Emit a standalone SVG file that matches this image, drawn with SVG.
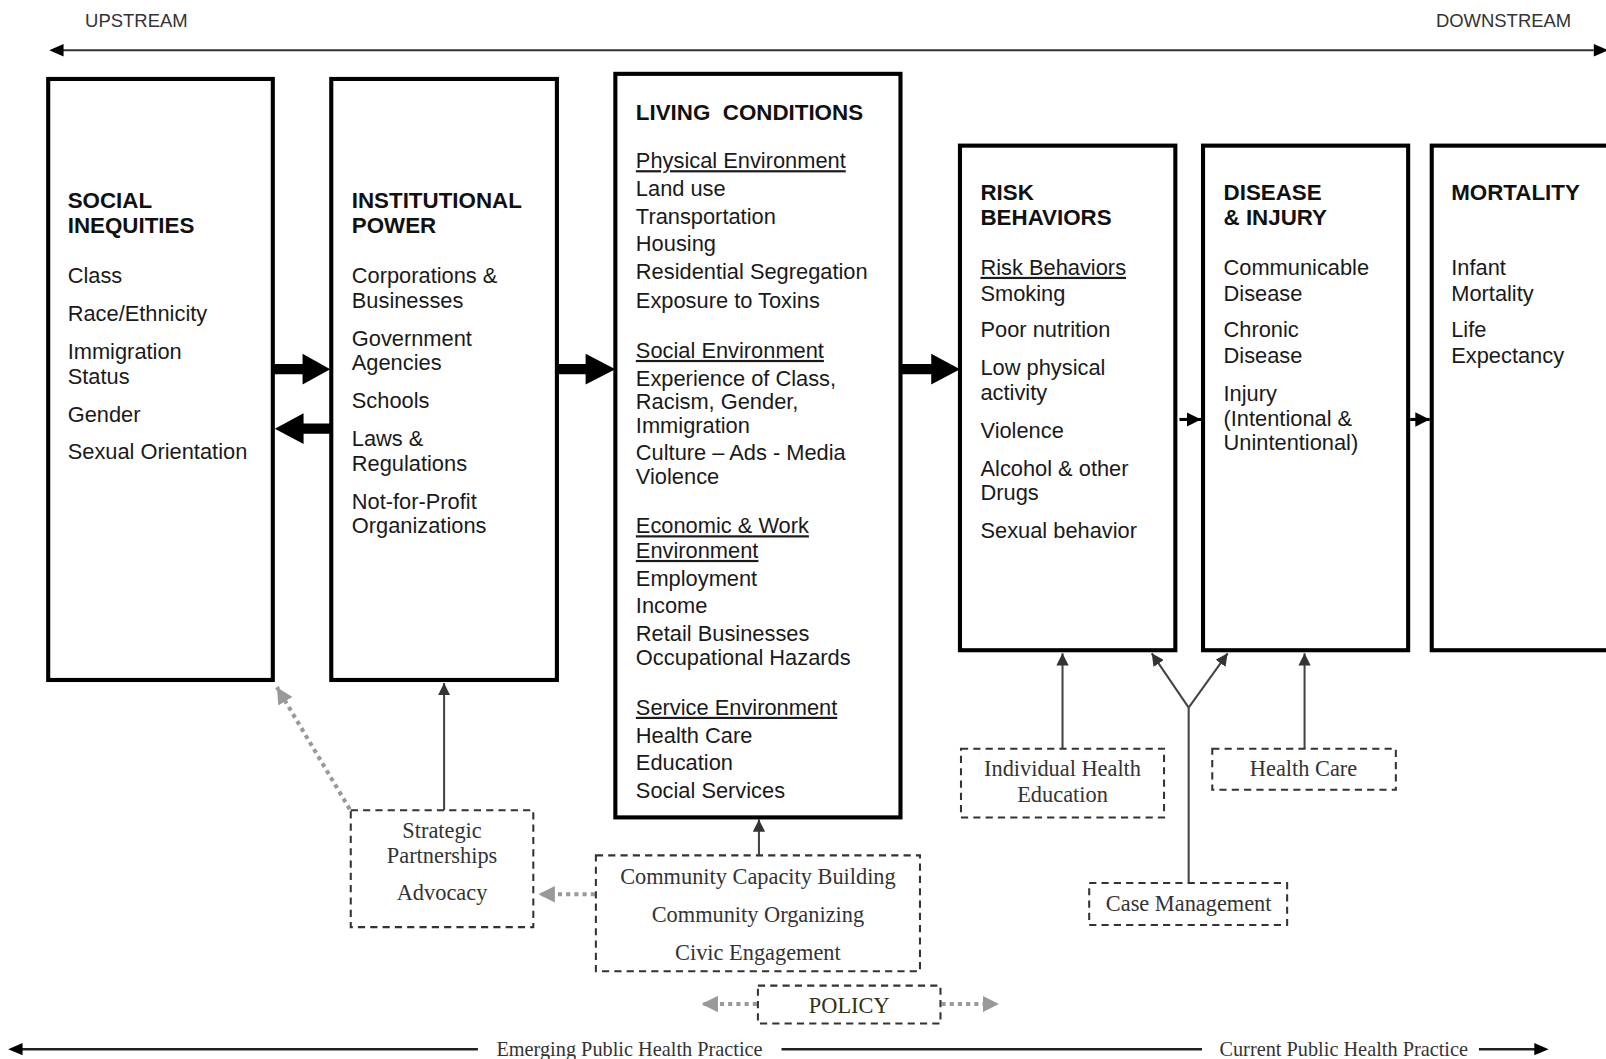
<svg xmlns="http://www.w3.org/2000/svg" width="1606" height="1059" viewBox="0 0 1606 1059">
<style>
.box{fill:#fff;stroke:#000;stroke-width:4}
.dbox{fill:#fff;stroke:#333;stroke-width:2;stroke-dasharray:7,5}
.h{font-family:"Liberation Sans",Arial,sans-serif;font-weight:bold;font-size:21.8px;fill:#111}
.t{font-family:"Liberation Sans",Arial,sans-serif;font-size:21.3px;fill:#1a1a1a}
.u{text-decoration:underline}
.s{font-family:"Liberation Serif","Times New Roman",serif;font-size:21.8px;fill:#333;text-anchor:middle}
.top{font-family:"Liberation Sans",Arial,sans-serif;font-size:18px;fill:#333}
.bot{font-family:"Liberation Serif","Times New Roman",serif;font-size:19.8px;fill:#333}
.ln{stroke:#444;stroke-width:2;fill:none}
.dot{stroke:#999;stroke-width:4;stroke-dasharray:4,4;fill:none}
</style>
<defs>
<marker id="ah" viewBox="0 0 10 10" refX="10" refY="5" markerWidth="12" markerHeight="12" markerUnits="userSpaceOnUse" orient="auto"><path d="M0,0 L10,5 L0,10 z" fill="#333"/></marker>
<marker id="ahk" viewBox="0 0 10 10" refX="10" refY="5" markerWidth="14" markerHeight="14" markerUnits="userSpaceOnUse" orient="auto"><path d="M0,0 L10,5 L0,10 z" fill="#000"/></marker>
<marker id="ahg" viewBox="0 0 10 10" refX="10" refY="5" markerWidth="16" markerHeight="16" markerUnits="userSpaceOnUse" orient="auto"><path d="M0,0 L10,5 L0,10 z" fill="#999"/></marker>
</defs>
<rect width="1606" height="1059" fill="#fff"/>
<g transform="scale(1.0256)">
<text class="top" x="83" y="26">UPSTREAM</text>
<text class="top" x="1532" y="26" text-anchor="end">DOWNSTREAM</text>

<g id="connectors">
<line x1="60" y1="49" x2="1554" y2="49" stroke="#333" stroke-width="2"/>
<path d="M48,49 L62,43 L62,55 z" fill="#000"/>
<path d="M1568,49 L1554,43 L1554,55 z" fill="#000"/>
<path d="M266,355 L295,355 L295,345 L322,360 L295,375 L295,365 L266,365 z" fill="#000"/>
<path d="M323,413 L296,413 L296,403 L268,418 L296,433 L296,423 L323,423 z" fill="#000"/>
<path d="M543,355 L571,355 L571,345 L600,360 L571,375 L571,365 L543,365 z" fill="#000"/>
<path d="M878,355 L908,355 L908,345 L936,360 L908,375 L908,365 L878,365 z" fill="#000"/>
<line x1="1150" y1="409" x2="1171" y2="409" stroke="#000" stroke-width="3" marker-end="url(#ahk)"/>
<line x1="1375" y1="409" x2="1394" y2="409" stroke="#000" stroke-width="3" marker-end="url(#ahk)"/>
<line class="ln" x1="433" y1="790" x2="433" y2="666" marker-end="url(#ah)"/>
<line class="dot" x1="341" y1="789" x2="270" y2="670" marker-end="url(#ahg)"/>
<line class="ln" x1="740" y1="834" x2="740" y2="799" marker-end="url(#ah)"/>
<line class="dot" x1="580" y1="872" x2="525" y2="872" marker-end="url(#ahg)"/>
<line class="ln" x1="1036" y1="730" x2="1036" y2="637" marker-end="url(#ah)"/>
<line class="ln" x1="1272" y1="730" x2="1272" y2="637" marker-end="url(#ah)"/>
<polyline class="ln" points="1159,861 1159,690"/>
<line class="ln" x1="1159" y1="690" x2="1123" y2="637" marker-end="url(#ah)"/>
<line class="ln" x1="1159" y1="690" x2="1197" y2="637" marker-end="url(#ah)"/>
<line class="dot" x1="738" y1="979" x2="684" y2="979" marker-end="url(#ahg)"/>
<line class="dot" x1="918" y1="979" x2="974" y2="979" marker-end="url(#ahg)"/>
<line x1="20" y1="1023" x2="466" y2="1023" stroke="#222" stroke-width="2.5"/>
<path d="M8,1023 L22,1017 L22,1029 z" fill="#000"/>
<line x1="762" y1="1023" x2="1172" y2="1023" stroke="#222" stroke-width="2.5"/>
<line x1="1442" y1="1023" x2="1498" y2="1023" stroke="#222" stroke-width="2.5"/>
<path d="M1510,1023 L1496,1017 L1496,1029 z" fill="#000"/>
</g>
<text class="bot" x="484" y="1030">Emerging Public Health Practice</text>
<text class="bot" x="1189" y="1030">Current Public Health Practice</text>

<g id="social-inequities">
<rect class="box" x="47" y="77" width="219" height="586"/>
<text class="h" x="66" y="203">SOCIAL</text>
<text class="h" x="66" y="227">INEQUITIES</text>
<text class="t" x="66" y="276">Class</text>
<text class="t" x="66" y="313">Race/Ethnicity</text>
<text class="t" x="66" y="350">Immigration</text>
<text class="t" x="66" y="374">Status</text>
<text class="t" x="66" y="411">Gender</text>
<text class="t" x="66" y="448">Sexual Orientation</text>
</g>

<g id="institutional-power">
<rect class="box" x="323" y="77" width="220" height="586"/>
<text class="h" x="343" y="203">INSTITUTIONAL</text>
<text class="h" x="343" y="227">POWER</text>
<text class="t" x="343" y="276">Corporations &amp;</text>
<text class="t" x="343" y="300">Businesses</text>
<text class="t" x="343" y="337">Government</text>
<text class="t" x="343" y="361">Agencies</text>
<text class="t" x="343" y="398">Schools</text>
<text class="t" x="343" y="435">Laws &amp;</text>
<text class="t" x="343" y="459">Regulations</text>
<text class="t" x="343" y="496">Not-for-Profit</text>
<text class="t" x="343" y="520">Organizations</text>
</g>

<g id="living-conditions">
<rect class="box" x="600" y="72" width="278" height="725"/>
<text class="h" x="620" y="117" xml:space="preserve">LIVING  CONDITIONS</text>
<text class="t u" x="620" y="164">Physical Environment</text>
<text class="t" x="620" y="191">Land use</text>
<text class="t" x="620" y="218">Transportation</text>
<text class="t" x="620" y="245">Housing</text>
<text class="t" x="620" y="272">Residential Segregation</text>
<text class="t" x="620" y="300">Exposure to Toxins</text>
<text class="t u" x="620" y="349">Social Environment</text>
<text class="t" x="620" y="376">Experience of Class,</text>
<text class="t" x="620" y="399">Racism, Gender,</text>
<text class="t" x="620" y="422">Immigration</text>
<text class="t" x="620" y="449">Culture – Ads - Media</text>
<text class="t" x="620" y="472">Violence</text>
<text class="t u" x="620" y="520">Economic &amp; Work</text>
<text class="t u" x="620" y="544">Environment</text>
<text class="t" x="620" y="571">Employment</text>
<text class="t" x="620" y="598">Income</text>
<text class="t" x="620" y="625">Retail Businesses</text>
<text class="t" x="620" y="648">Occupational Hazards</text>
<text class="t u" x="620" y="697">Service Environment</text>
<text class="t" x="620" y="724">Health Care</text>
<text class="t" x="620" y="751">Education</text>
<text class="t" x="620" y="778">Social Services</text>
</g>

<g id="risk-behaviors">
<rect class="box" x="936" y="142" width="210" height="492"/>
<text class="h" x="956" y="195">RISK</text>
<text class="h" x="956" y="219">BEHAVIORS</text>
<text class="t u" x="956" y="268">Risk Behaviors</text>
<text class="t" x="956" y="293">Smoking</text>
<text class="t" x="956" y="329">Poor nutrition</text>
<text class="t" x="956" y="366">Low physical</text>
<text class="t" x="956" y="390">activity</text>
<text class="t" x="956" y="427">Violence</text>
<text class="t" x="956" y="464">Alcohol &amp; other</text>
<text class="t" x="956" y="488">Drugs</text>
<text class="t" x="956" y="525">Sexual behavior</text>
</g>

<g id="disease-injury">
<rect class="box" x="1173" y="142" width="200" height="492"/>
<text class="h" x="1193" y="195">DISEASE</text>
<text class="h" x="1193" y="219">&amp; INJURY</text>
<text class="t" x="1193" y="268">Communicable</text>
<text class="t" x="1193" y="293">Disease</text>
<text class="t" x="1193" y="329">Chronic</text>
<text class="t" x="1193" y="354">Disease</text>
<text class="t" x="1193" y="391">Injury</text>
<text class="t" x="1193" y="415">(Intentional &amp;</text>
<text class="t" x="1193" y="439">Unintentional)</text>
</g>

<g id="mortality">
<rect class="box" x="1396" y="142" width="230" height="492"/>
<text class="h" x="1415" y="195">MORTALITY</text>
<text class="t" x="1415" y="268">Infant</text>
<text class="t" x="1415" y="293">Mortality</text>
<text class="t" x="1415" y="329">Life</text>
<text class="t" x="1415" y="354">Expectancy</text>
</g>

<g id="strategic-partnerships">
<rect class="dbox" x="342" y="790" width="178" height="114"/>
<text class="s" x="431" y="817">Strategic</text>
<text class="s" x="431" y="841">Partnerships</text>
<text class="s" x="431" y="878">Advocacy</text>
</g>

<g id="community">
<rect class="dbox" x="581" y="834" width="316" height="113"/>
<text class="s" x="739" y="862">Community Capacity Building</text>
<text class="s" x="739" y="899">Community Organizing</text>
<text class="s" x="739" y="936">Civic Engagement</text>
</g>

<g id="policy">
<rect class="dbox" x="739" y="961" width="178" height="37"/>
<text class="s" x="828" y="988" style="fill:#333311">POLICY</text>
</g>

<g id="individual-health-education">
<rect class="dbox" x="937" y="730" width="198" height="67"/>
<text class="s" x="1036" y="757">Individual Health</text>
<text class="s" x="1036" y="782">Education</text>
</g>

<g id="health-care">
<rect class="dbox" x="1182" y="730" width="179" height="40"/>
<text class="s" x="1271" y="757">Health Care</text>
</g>

<g id="case-management">
<rect class="dbox" x="1062" y="861" width="193" height="41"/>
<text class="s" x="1159" y="888">Case Management</text>
</g>
</g>
</svg>
